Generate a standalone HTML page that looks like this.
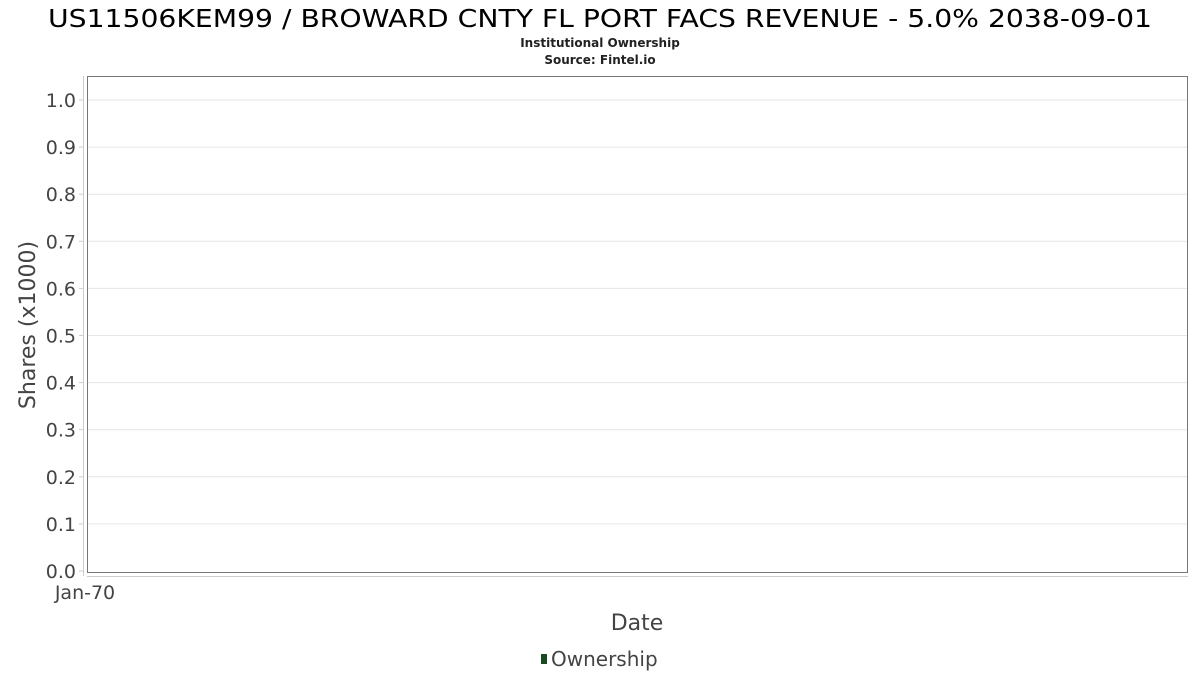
<!DOCTYPE html>
<html><head><meta charset="utf-8"><style>
html,body{margin:0;padding:0;background:#fff;}
svg{display:block;font-family:"DejaVu Sans","Liberation Sans",sans-serif;}
</style></head><body>
<svg id="chart" width="1200" height="675" viewBox="0 0 1200 675">
<text x="600" y="27" text-anchor="middle" font-size="25" textLength="1104" lengthAdjust="spacingAndGlyphs" fill="#000">US11506KEM99 / BROWARD CNTY FL PORT FACS REVENUE - 5.0% 2038-09-01</text>
<text x="600" y="47" text-anchor="middle" font-size="12" font-weight="bold" fill="#222">Institutional Ownership</text>
<text x="600" y="64" text-anchor="middle" font-size="12" font-weight="bold" fill="#222">Source: Fintel.io</text>
<rect x="87.5" y="76.5" width="1100" height="496" fill="#fff" stroke="#777" stroke-width="1"/>
<g id="grid"></g>
<g id="yticks"></g>
<line x1="83.5" y1="76" x2="83.5" y2="576" stroke="#ccc"/>
<line x1="87" y1="576.5" x2="1188" y2="576.5" stroke="#ccc"/>
<g id="xticks"></g>
<text x="35" y="325" text-anchor="middle" font-size="22" fill="#444" transform="rotate(-90 35 325)">Shares (x1000)</text>
<text x="637" y="630" text-anchor="middle" font-size="22" fill="#444">Date</text>
<g>
<rect x="541" y="654" width="6" height="10" fill="#1a4a23"/>
<text x="551" y="666" font-size="20" fill="#444">Ownership</text>
</g>
<g id="series"></g>
</svg>
<script>
const yTicks=[0,0.1,0.2,0.3,0.4,0.5,0.6,0.7,0.8,0.9,1.0];
const yTickLabels=["0.0","0.1","0.2","0.3","0.4","0.5","0.6","0.7","0.8","0.9","1.0"];
const xTickLabels=["Jan-70"];
const xTickValues=[0];
const dates=[];
const ownership=[];
const NS="http://www.w3.org/2000/svg";
const y=v=>571-(v-0)*(571-100)/(1.0-0);
const x=v=>87+v*1101;
const grid=document.getElementById('grid'),yt=document.getElementById('yticks'),xt=document.getElementById('xticks'),ser=document.getElementById('series');
yTicks.forEach((v,i)=>{
 if(v>0){const l=document.createElementNS(NS,'line');
 l.setAttribute('x1',88);l.setAttribute('x2',1187);l.setAttribute('y1',y(v));l.setAttribute('y2',y(v));l.setAttribute('stroke','#e6e6e6');
 
 
 grid.appendChild(l);}
 const t=document.createElementNS(NS,'text');
 t.setAttribute('x',76);t.setAttribute('y',y(v)+7);t.setAttribute('text-anchor','end');t.setAttribute('font-size','19');t.setAttribute('fill','#444');
 t.textContent=yTickLabels[i];
 
 
 yt.appendChild(t);
 const k=document.createElementNS(NS,'line');
 k.setAttribute('x1',79);k.setAttribute('x2',83);k.setAttribute('y1',y(v));k.setAttribute('y2',y(v));k.setAttribute('stroke','#ccc');
 
 
 yt.appendChild(k);
});
xTickValues.forEach((v,i)=>{
 const t=document.createElementNS(NS,'text');
 t.setAttribute('x',x(v)-2);t.setAttribute('y',599);t.setAttribute('text-anchor','middle');t.setAttribute('font-size','19');t.setAttribute('fill','#444');
 t.textContent=xTickLabels[i];
 
 
 xt.appendChild(t);
});
if(ownership.length){
 const p=document.createElementNS(NS,'polyline');
 p.setAttribute('points',ownership.map((v,i)=>x(dates[i])+','+y(v)).join(' '));
 p.setAttribute('fill','none');p.setAttribute('stroke','#1a4a23');p.setAttribute('stroke-width','2');
 
 
 ser.appendChild(p);
}
</script>
</body></html>
